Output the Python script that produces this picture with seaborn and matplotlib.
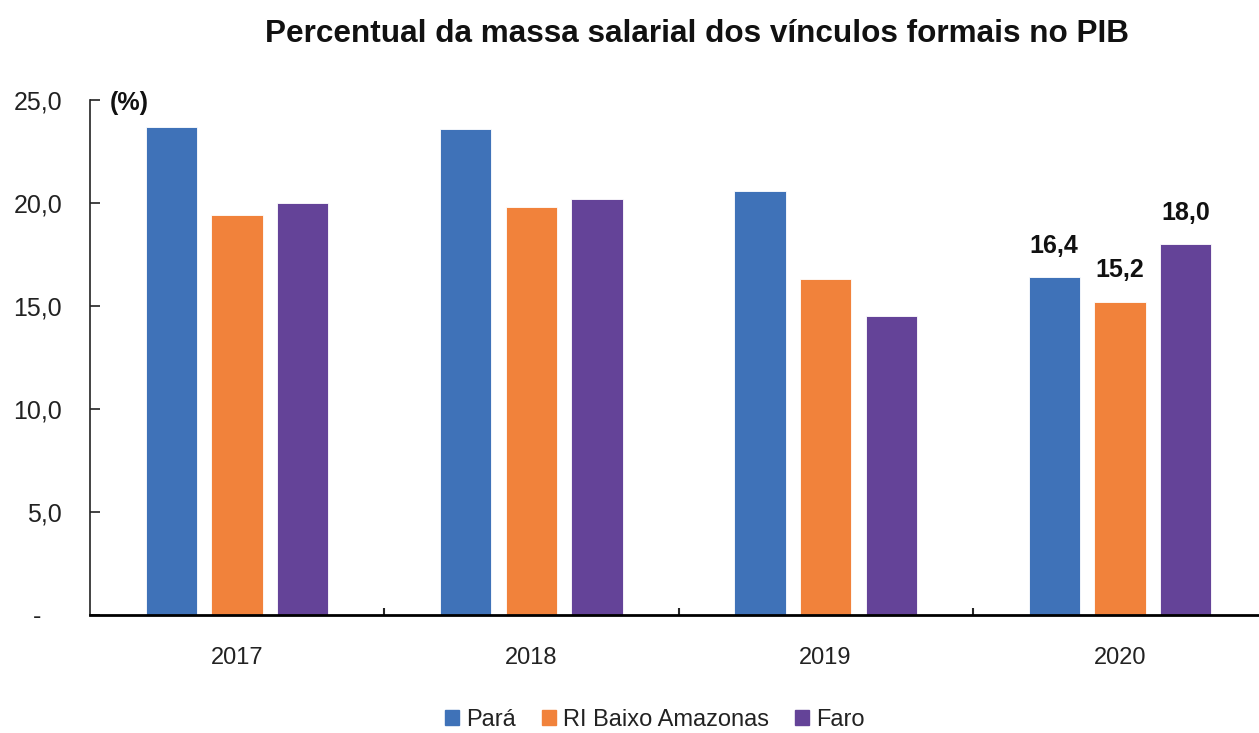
import matplotlib
matplotlib.use("Agg")
import matplotlib.pyplot as plt
import pandas as pd
import seaborn as sns
from matplotlib.ticker import FixedLocator

# Dados
anos = ["2017", "2018", "2019", "2020"]
regioes = ["Pará", "RI Baixo Amazonas", "Faro"]
para = [23.7, 23.6, 20.6, 16.4]
ri_baixo_amazonas = [19.4, 19.8, 16.3, 15.2]
faro = [20.0, 20.2, 14.5, 18.0]
y_ticks = [0, 5, 10, 15, 20, 25]
y_tick_labels = ["-   ", "5,0", "10,0", "15,0", "20,0", "25,0"]

cores = ["#3F72B8", "#F1823B", "#644398"]

# Monta a tabela longa pro seaborn
df = pd.DataFrame({
    "ano": anos * 3,
    "regiao": [r for r in regioes for _ in anos],
    "valor": para + ri_baixo_amazonas + faro,
})

sns.set_theme(style="white")
plt.rcParams["font.family"] = ["Liberation Sans Narrow", "Liberation Sans", "DejaVu Sans"]

fig = plt.figure(figsize=(12.59, 7.33), dpi=100)
ax = fig.add_axes([90 / 1259, 118 / 733, 1177 / 1259, 515 / 733])

sns.barplot(
    data=df, x="ano", y="valor", hue="regiao", hue_order=regioes,
    palette=cores, saturation=1, width=0.67, gap=0.22, ax=ax,
    edgecolor="white", linewidth=0.6, legend=True,
)

ax.set_xlim(-0.5, 3.5)
ax.set_ylim(0, 25)
ax.set_xlabel("")
ax.set_ylabel("")

# Eixo Y
ax.set_yticks(y_ticks)
ax.set_yticklabels(y_tick_labels)
ax.tick_params(axis="y", direction="in", length=7, width=1.2, pad=20,
               labelsize=18, colors="#222222", left=True)

# Eixo X: ticks entre os grupos
ax.tick_params(axis="x", which="major", length=0, pad=23, labelsize=17,
               labelcolor="#222222")
ax.xaxis.set_minor_locator(FixedLocator([0.5, 1.5, 2.5]))
ax.tick_params(axis="x", which="minor", direction="in", length=5, width=1.5,
               bottom=True)

for s in ["top", "right"]:
    ax.spines[s].set_visible(False)
ax.spines["left"].set_linewidth(1.2)
ax.spines["left"].set_color("#222222")
ax.spines["bottom"].set_linewidth(2)
ax.spines["bottom"].set_color("black")

# Rotulos so em 2020
for cont in ax.containers:
    labels = ["" for _ in anos]
    labels[-1] = f"{cont.datavalues[-1]:.1f}".replace(".", ",")
    ax.bar_label(cont, labels=labels, padding=14, fontsize=18,
                 fontweight="bold", color="#111111")

fig.text(110 / 1259, 1 - 103 / 733, "(%)",
         fontsize=18, fontweight="bold", va="center", ha="left", color="#111111")

fig.suptitle("Percentual da massa salarial dos vínculos formais no PIB",
             x=697 / 1259, y=1 - 34 / 733, va="center", fontsize=22.7,
             fontweight="bold", color="#111111")

ax.legend_.remove()
handles = [plt.Rectangle((0, 0), 1, 1, color=c) for c in cores]
fig.legend(handles, regioes, loc="center", ncol=3, frameon=False,
           bbox_to_anchor=(655 / 1259, 1 - 720 / 733), fontsize=17,
           handlelength=0.6, handleheight=0.6, handletextpad=0.3,
           columnspacing=1.1, labelcolor="#222222")

fig.savefig("out.png", dpi=100)
